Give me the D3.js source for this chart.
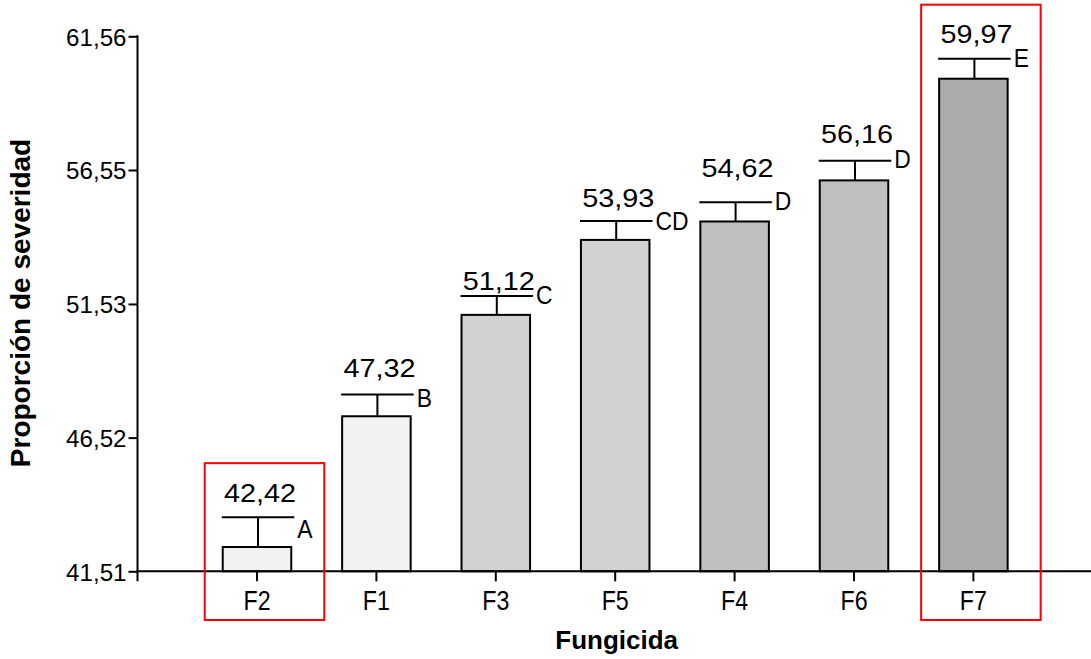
<!DOCTYPE html>
<html>
<head>
<meta charset="utf-8">
<script src="https://cdn.jsdelivr.net/npm/d3@7"></script>
<style>
  html, body { margin: 0; padding: 0; background: #fff; }
  svg { display: block; }
  text { font-family: "Liberation Sans", Arial, sans-serif; fill: #000; }
</style>
</head>
<body>
<svg id="chart" width="1091" height="659"></svg>
<script>
// Fungicide treatments and their mean severity proportion
const categories = ["F2", "F1", "F3", "F5", "F4", "F6", "F7"];
const means = [42.42, 47.32, 51.12, 53.93, 54.62, 56.16, 59.97];
const upperErrors = [1.12, 0.82, 0.71, 0.71, 0.72, 0.74, 0.75];
const groupLetters = ["A", "B", "C", "CD", "D", "D", "E"];
const highlighted = ["F2", "F7"];

// Y axis ticks
const yTickValues = [41.51, 46.52, 51.53, 56.55, 61.56];
const yTickLabels = ["41,51", "46,52", "51,53", "56,55", "61,56"];

// Styling
const barFills = ["#f2f2f2", "#f2f2f2", "#d2d2d2", "#d2d2d2", "#bfbfbf", "#bfbfbf", "#ababab"];
const valueGap = [15, 17.6, 6, 14.3, 25, 17.4, 16];      // space between cap and value text
const letterShift = [11, 3, -1.5, 0, -2, -2.5, -1.5];     // vertical nudge of group letters
const numStretch = 1.13;
const tickStretch = 1.05;
const letterStretch = 0.88;

const svg = d3.select("#chart");

const axisX = 137.5;
const baseY = 571.3;

const y = d3.scaleLinear().domain([41.51, 61.56]).range([baseY, 36.3]);
const x = d3.scaleBand().domain(categories)
  .range([197.3, 1033.1]).paddingInner(0.426).paddingOuter(0.213);

const fmt = v => d3.format(".2f")(v).replace(".", ",");

// stretch a text horizontally around its anchor point
function stretch(sel, k) {
  sel.each(function () {
    const t = d3.select(this);
    const tx = +(t.attr("x") || 0);
    const ty = +(t.attr("y") || 0);
    t.attr("x", 0).attr("y", 0)
     .attr("transform", `translate(${tx},${ty}) scale(${k},1)`);
  });
}

// Y axis
const yAxis = svg.append("g")
  .attr("transform", `translate(${axisX},0)`)
  .call(d3.axisLeft(y).tickValues(yTickValues)
    .tickFormat((d, i) => yTickLabels[i]).tickSize(9).tickPadding(2).tickSizeOuter(0));
yAxis.select(".domain").remove();
yAxis.selectAll(".tick line").attr("stroke", "#000").attr("stroke-width", 2);
yAxis.selectAll(".tick text")
  .attr("font-size", 23).attr("dy", "0.38em")
  .attr("font-family", "Liberation Sans, Arial, sans-serif");
stretch(yAxis.selectAll(".tick text"), tickStretch);
svg.append("line")
  .attr("x1", axisX).attr("x2", axisX)
  .attr("y1", y(61.56) - 1).attr("y2", baseY + 10)
  .attr("stroke", "#000").attr("stroke-width", 2);

// Bars
const bars = svg.append("g");
bars.selectAll("rect").data(categories).join("rect")
  .attr("x", d => x(d))
  .attr("width", x.bandwidth())
  .attr("y", (d, i) => y(means[i]))
  .attr("height", (d, i) => baseY - y(means[i]))
  .attr("fill", (d, i) => barFills[i])
  .attr("stroke", "#000").attr("stroke-width", 2);

// X axis
const xAxis = svg.append("g")
  .attr("transform", `translate(0,${baseY})`)
  .call(d3.axisBottom(x).tickSize(10).tickPadding(0).tickSizeOuter(0));
xAxis.select(".domain").remove();
xAxis.selectAll(".tick line").attr("stroke", "#000").attr("stroke-width", 2);
xAxis.selectAll(".tick text")
  .attr("font-size", 27)
  .attr("y", 29).attr("dy", "0.36em")
  .attr("font-family", "Liberation Sans, Arial, sans-serif");
stretch(xAxis.selectAll(".tick text"), 0.86);
svg.append("line")
  .attr("x1", axisX - 1).attr("x2", 1091)
  .attr("y1", baseY).attr("y2", baseY)
  .attr("stroke", "#000").attr("stroke-width", 2);

// Error bars (upper only)
const err = svg.append("g").attr("stroke", "#000").attr("stroke-width", 2);
categories.forEach((c, i) => {
  const cx = x(c) + x.bandwidth() / 2 + 1;
  const capY = y(means[i] + upperErrors[i]);
  err.append("line")
    .attr("x1", cx).attr("x2", cx)
    .attr("y1", y(means[i])).attr("y2", capY);
  err.append("line")
    .attr("x1", x(c) - 1).attr("x2", x(c) + x.bandwidth() + 3)
    .attr("y1", capY).attr("y2", capY);
});

// Value labels
const vals = svg.append("g");
categories.forEach((c, i) => {
  const capY = y(means[i] + upperErrors[i]);
  vals.append("text")
    .attr("x", x(c) + x.bandwidth() / 2 + 3)
    .attr("y", capY - valueGap[i])
    .attr("text-anchor", "middle")
    .attr("font-size", 25.5)
    .text(fmt(means[i]));
});
stretch(vals.selectAll("text"), numStretch);

// Group letters
const letters = svg.append("g");
categories.forEach((c, i) => {
  const capY = y(means[i] + upperErrors[i]);
  letters.append("text")
    .attr("x", x(c) + x.bandwidth() + 6)
    .attr("y", capY + letterShift[i])
    .attr("dy", "0.36em")
    .attr("font-size", 26)
    .text(groupLetters[i]);
});
stretch(letters.selectAll("text"), letterStretch);

// Highlight frames
categories.forEach((c, i) => {
  if (!highlighted.includes(c)) return;
  const capY = y(means[i] + upperErrors[i]);
  svg.append("rect")
    .attr("x", x(c) - 18)
    .attr("y", capY - 54)
    .attr("width", x.bandwidth() + 51)
    .attr("height", 620 - (capY - 54))
    .attr("fill", "none")
    .attr("stroke", "#ff0000").attr("stroke-width", 2);
});

// Axis titles
svg.append("text")
  .attr("x", 616.7).attr("y", 649)
  .attr("text-anchor", "middle")
  .attr("font-size", 26).attr("font-weight", "bold")
  .text("Fungicida");

svg.append("text")
  .attr("transform", "translate(30,303) rotate(-90)")
  .attr("text-anchor", "middle")
  .attr("font-size", 28).attr("font-weight", "bold")
  .text("Proporción de severidad");
</script>
</body>
</html>
